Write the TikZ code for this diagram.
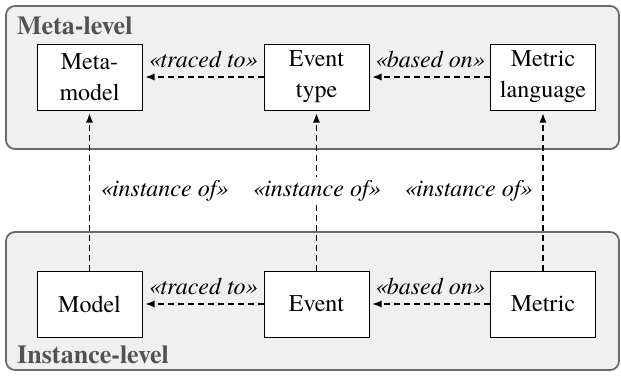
\documentclass[tikz,border=0pt]{standalone}
\usepackage{fontspec}
\setmainfont{TeX Gyre Termes}
\usetikzlibrary{arrows.meta}
\begin{document}
\begin{tikzpicture}[x=1pt,y=-1pt,
  container/.style={draw=black!58, line width=1.8pt, fill=black!6, rounded corners=9pt, inner sep=0pt},
  box/.style={draw=black, fill=white, line width=1pt, minimum width=105pt, minimum height=66pt,
    align=center, inner sep=0pt, font=\fontsize{24}{31}\selectfont},
  rel/.style={line width=1.1pt, dash pattern=on 6pt off 4pt, -{Latex[length=9pt,width=7pt]}, shorten >=3pt},
  lbl/.style={font=\fontsize{24}{28}\selectfont\itshape, inner sep=3pt},
  title/.style={font=\fontsize{26}{30}\selectfont\bfseries, text=black!68, anchor=base west, inner sep=0pt}
]
\useasboundingbox (0,0) rectangle (621,375);
% containers
\node[container, minimum width=613pt, minimum height=143pt] (meta) at (312.5,77.5) {};
\node[container, minimum width=613pt, minimum height=138pt] (inst) at (312.5,301) {};
\node[title] (metat) at (17,34) {Meta-level};
\node[title] (instt) at (17,363) {Instance-level};
% meta-level boxes
\node[box] (mm) at (89.5,77) {Meta-\\model};
\node[box] (et) at (316.5,77) {Event\\type};
\node[box] (ml) at (543,77) {Metric\\language};
% instance-level boxes
\node[box] (mo) at (89.5,304) {Model};
\node[box] (ev) at (316.5,304) {Event};
\node[box] (me) at (543,304) {Metric};
% horizontal relations
\draw[rel] (et.west) -- node[lbl, above=6pt] {«traced to»} (mm.east);
\draw[rel] (ml.west) -- node[lbl, above=6pt] {«based on»} (et.east);
\draw[rel] (ev.west) -- node[lbl, above=6pt] {«traced to»} (mo.east);
\draw[rel] (me.west) -- node[lbl, above=6pt] {«based on»} (ev.east);
% vertical relations
\draw[rel] (mo.north) -- node[lbl, right=7pt] {«instance of»} (mm.south);
\draw[rel] (ev.north) -- node[lbl, fill=white] {«instance of»} (et.south);
\draw[rel] (me.north) -- node[lbl, left=7pt] {«instance of»} (ml.south);
\end{tikzpicture}
\end{document}
